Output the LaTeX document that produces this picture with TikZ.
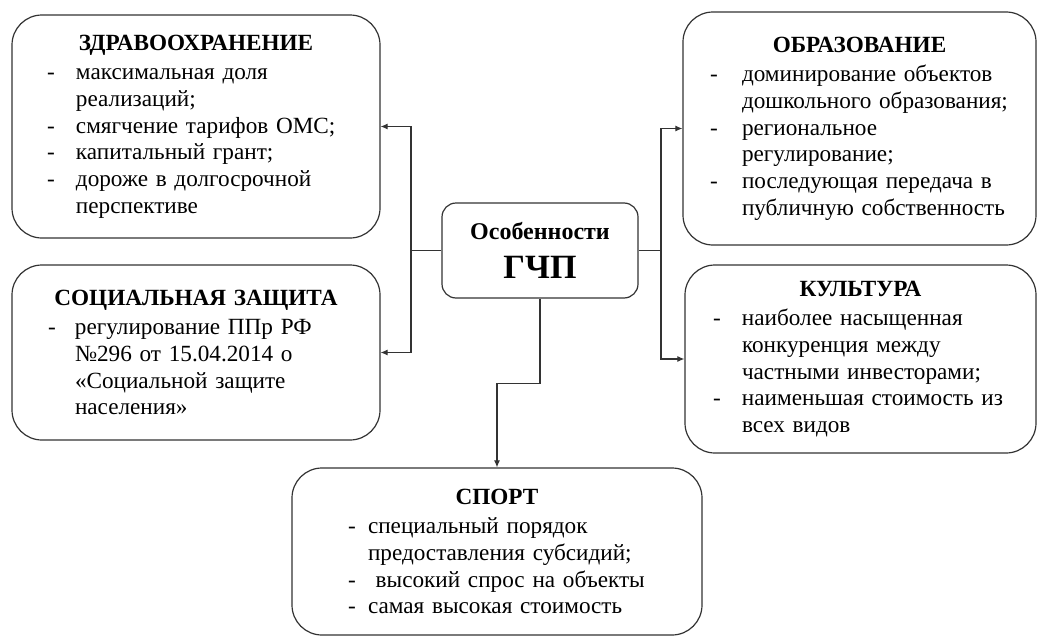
\documentclass[tikz,border=0pt]{standalone}
\usepackage{fontspec}
\setmainfont{Liberation Serif}
\usetikzlibrary{arrows.meta, positioning}
\newlength{\ind}
\newlength{\gapw}
\newcommand{\dsh}{\hspace*{\ind}\makebox[\gapw][l]{-}}
\newcommand{\cnt}{\hspace*{\dimexpr\ind+\gapw\relax}}
\newcommand{\head}[1]{{\centering\textbf{#1}\par}\vspace{3pt}}
\tikzset{
  sectorbox/.style={draw=black!80, line width=1.2pt, rounded corners=30pt, align=left,
    inner xsep=10pt, inner ysep=0pt, font=\fontsize{23.2}{26.7}\selectfont},
  corebox/.style={draw=black!80, line width=1.2pt, rounded corners=14pt, minimum width=196pt, minimum height=95pt,
    align=center, font=\bfseries},
  link/.style={draw=black!80, line width=1.1pt, -{Latex[length=7pt,width=6pt]}}
}
\begin{document}
\begin{tikzpicture}[x=1pt, y=-1pt]
\useasboundingbox (0,0) rectangle (1039,637);
% central node
\node[corebox] (core) at (540,250.5) {{\fontsize{24}{28}\selectfont Особенности}\\[15pt] {\fontsize{34}{34}\selectfont ГЧП}};
% sectors
\node[sectorbox, text width=348pt, minimum height=223pt] (zdrav) at (196,126.5) {\setlength{\ind}{25pt}\setlength{\gapw}{29pt}%
  \head{ЗДРАВООХРАНЕНИЕ}
  \dsh максимальная доля\\ \cnt реализаций;\\ \dsh смягчение тарифов ОМС;\\ \dsh капитальный грант;\\
  \dsh дороже в долгосрочной\\ \cnt перспективе};
\node[sectorbox, text width=348pt, minimum height=175pt] (soczash) at (196,352.5) {\setlength{\ind}{26pt}\setlength{\gapw}{27pt}%
  \head{СОЦИАЛЬНАЯ ЗАЩИТА}
  \dsh регулирование ППр РФ\\ \cnt №296 от 15.04.2014 о\\ \cnt «Социальной защите\\ \cnt населения»};
\node[sectorbox, text width=333pt, minimum height=233pt] (obraz) at (859.5,128.5) {\setlength{\ind}{17pt}\setlength{\gapw}{32pt}%
  \head{ОБРАЗОВАНИЕ}
  \dsh доминирование объектов\\ \cnt дошкольного образования;\\ \dsh региональное\\ \cnt регулирование;\\
  \dsh последующая передача в\\ \cnt публичную собственность};
\node[sectorbox, text width=331pt, minimum height=188pt] (kult) at (860.5,359) {\setlength{\ind}{18pt}\setlength{\gapw}{29pt}%
  \head{КУЛЬТУРА}
  \dsh наиболее насыщенная\\ \cnt конкуренция между\\ \cnt частными инвесторами;\\ \dsh наименьшая стоимость из\\ \cnt всех видов};
\node[sectorbox, text width=390pt, minimum height=167pt] (sport) at (497,551.5) {\setlength{\ind}{46pt}\setlength{\gapw}{20pt}%
  \head{СПОРТ}
  \dsh специальный порядок\\ \cnt предоставления субсидий;\\ \dsh\ высокий спрос на объекты\\ \dsh самая высокая стоимость};
% connectors
\coordinate (lhub) at (411,250.5);
\coordinate (rhub) at (661,250.5);
\draw[link, -] (core.west) -- (lhub);
\draw[link] (lhub) |- (zdrav.east);
\draw[link] (lhub) |- (soczash.east);
\draw[link, -] (core.east) -- (rhub);
\draw[link] (rhub) |- (obraz.west);
\draw[link] (rhub) |- (kult.west);
\draw[link] (core.south) -- ++(0,85) -| (sport.north);
\end{tikzpicture}
\end{document}
